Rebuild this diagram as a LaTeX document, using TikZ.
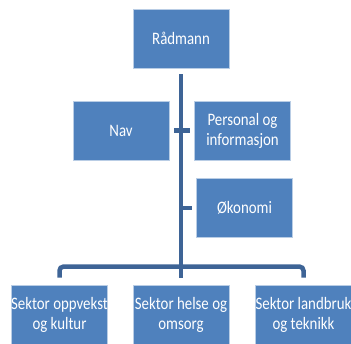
\documentclass[tikz,border=0pt]{standalone}
\usepackage{fontspec}
\setmainfont{Carlito}
\newfontfamily\boxfont{Carlito}[FakeStretch=0.85]
\usepackage{xcolor}
\definecolor{boxblue}{RGB}{79,129,189}
\definecolor{boxedge}{RGB}{185,205,229}
\definecolor{linkblue}{RGB}{62,100,150}

\begin{document}
\begin{tikzpicture}[x=1pt, y=-1pt,
    orgbox/.style={rectangle, fill=boxblue, draw=boxedge, line width=0.8pt,
        minimum width=96pt, minimum height=59pt, inner sep=0pt, text=white,
        align=center, font=\boxfont\fontsize{17.5}{20}\selectfont},
    link/.style={draw=linkblue, line width=4.5pt}]

    % Define parameters for easy adjustment
    \def\topRow{38.5}      % Centre of the top box
    \def\midRow{130.5}     % Centre of Nav / Personal og informasjon
    \def\lowRow{208}       % Centre of Okonomi
    \def\baseRow{314.5}    % Centre of the sector boxes

    % 0. Fix the page size
    \useasboundingbox (0,0) rectangle (351,344);

    % 1. Draw the boxes
    \node[orgbox] (radmann) at (181,\topRow) {Rådmann};
    \node[orgbox] (nav) at (121,\midRow) {Nav};
    \node[orgbox] (personal) at (242.5,\midRow) {Personal og\\informasjon};
    \node[orgbox] (okonomi) at (244.5,\lowRow) {Økonomi};
    \node[orgbox] (oppvekst) at (59.5,\baseRow) {Sektor oppvekst\\og kultur};
    \node[orgbox] (helse) at (181,\baseRow) {Sektor helse og\\omsorg};
    \node[orgbox] (landbruk) at (303.5,\baseRow) {Sektor landbruk\\og teknikk};

    % 2. Draw the main vertical line
    \draw[link] ([yshift=-6pt]radmann.south) -- ([yshift=7pt]helse.north);

    % 3. Draw the stubs to the staff boxes
    \draw[link] ([xshift=5pt]nav.east) -- (radmann.south |- nav.east);
    \draw[link] (radmann.south |- personal.west) -- ([xshift=-4pt]personal.west);
    \draw[link] (radmann.south |- okonomi.west) -- ([xshift=-4pt]okonomi.west);

    % 4. Draw the bar over the sectors
    \draw[link, rounded corners=4pt] ([yshift=7pt]oppvekst.north) -- ++(0pt,11pt)
        -| ([yshift=7pt]landbruk.north);
\end{tikzpicture}
\end{document}
